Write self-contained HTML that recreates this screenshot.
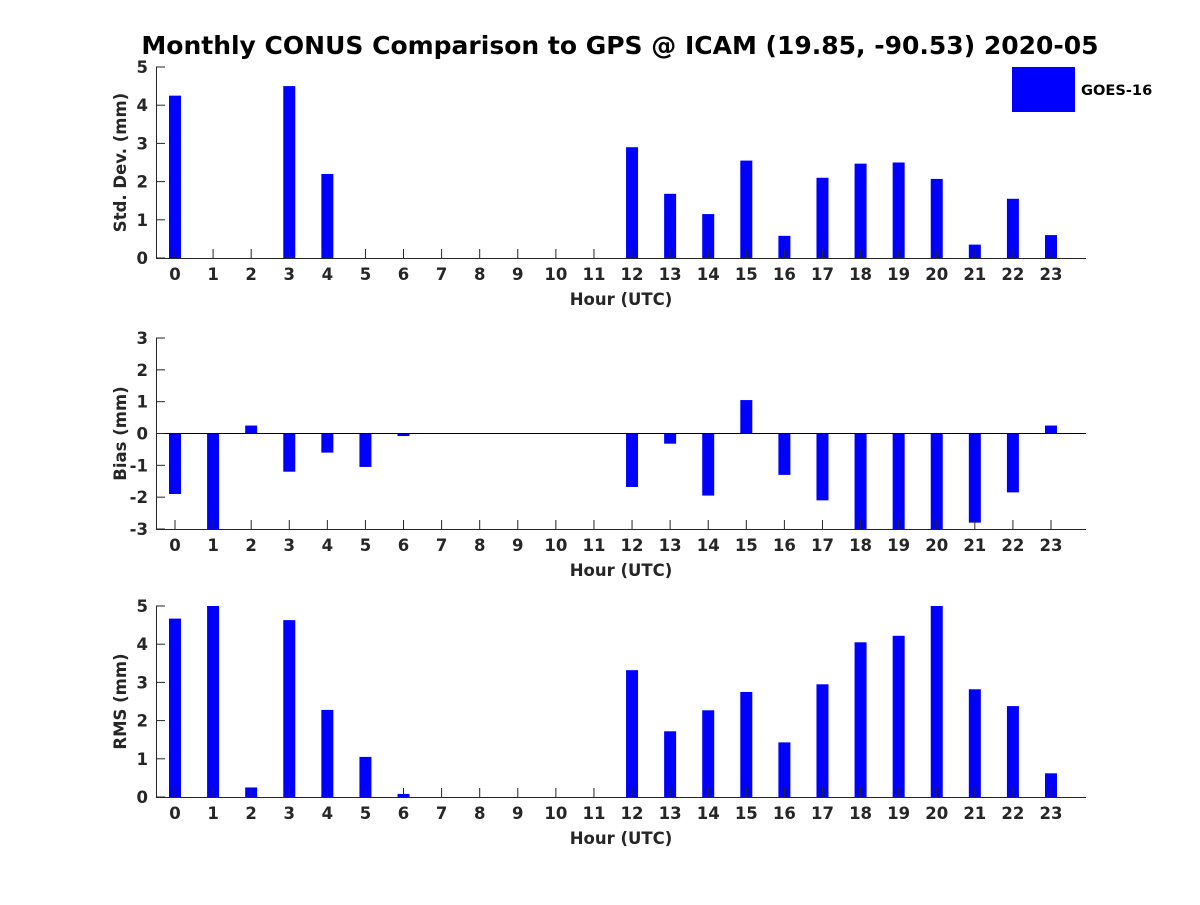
<!DOCTYPE html>
<html><head><meta charset="utf-8"><style>
body{margin:0;background:#fff;}
svg text{font-family:"DejaVu Sans","Liberation Sans",sans-serif;font-weight:bold;fill:#262626;}
</style></head><body>
<svg id="c" width="1200" height="900" xmlns="http://www.w3.org/2000/svg">
<text x="620" y="54" text-anchor="middle" font-size="25" style="fill:#000">Monthly CONUS Comparison to GPS @ ICAM (19.85, -90.53) 2020-05</text>
<rect x="1012" y="67" width="63" height="45" fill="#0000ff"/>
<text x="1081" y="95" font-size="14.6" style="fill:#000">GOES-16</text>
</svg>
<script>
const hours=[0,1,2,3,4,5,6,7,8,9,10,11,12,13,14,15,16,17,18,19,20,21,22,23];
const stdVals=[4.25,0,0,4.5,2.2,0,0,0,0,0,0,0,2.9,1.68,1.15,2.55,0.58,2.1,2.47,2.5,2.07,0.35,1.55,0.6];
const biasVals=[-1.9,-3.2,0.25,-1.2,-0.6,-1.05,-0.08,0,0,0,0,0,-1.68,-0.32,-1.95,1.05,-1.3,-2.1,-3.5,-3.6,-3.3,-2.8,-1.85,0.25];
const rmsVals=[4.67,5.0,0.25,4.63,2.28,1.05,0.08,0,0,0,0,0,3.32,1.72,2.27,2.75,1.43,2.95,4.05,4.22,5.0,2.82,2.38,0.62];
const stdTicks=[0,1,2,3,4,5];
const biasTicks=[-3,-2,-1,0,1,2,3];
const rmsTicks=[0,1,2,3,4,5];
const NS="http://www.w3.org/2000/svg";
const svg=document.getElementById('c');
function el(t,a,p){const e=document.createElementNS(NS,t);for(const k in a)e.setAttribute(k,a[k]);(p||svg).appendChild(e);return e;}
const X0=156,X1=1086;
function xs(h){return 175+h*38.087;}
function panel(name,vals,ticks,ymin,ymax,top,bot,ylabel){
  const g=el('g',{});
  
  
  const ys=v=>bot-(v-ymin)/(ymax-ymin)*(bot-top);
  const base=ys(Math.max(ymin,Math.min(ymax,0)));
  vals.forEach((v,i)=>{
    const vc=Math.max(ymin,Math.min(ymax,v));
    const y1=ys(vc);
    const r=el('rect',{x:xs(hours[i])-6,y:Math.min(y1,base),width:12,height:Math.abs(base-y1),fill:'#0000ff'},g);
    
    
  });
  if(ymin<0){const z=el('line',{x1:X0,x2:X1,y1:base,y2:base,stroke:'#000','stroke-width':1},g);
    }
  const ax=el('line',{x1:X0,x2:X1,y1:bot+0.5,y2:bot+0.5,stroke:'#262626'},g);
  
  const ay=el('line',{x1:X0+0.5,x2:X0+0.5,y1:top,y2:bot,stroke:'#262626'},g);
  
  hours.forEach(h=>{
    el('line',{x1:xs(h),x2:xs(h),y1:bot,y2:bot-9,stroke:'#262626'},g);
    const t=el('text',{x:xs(h),y:bot+22,'text-anchor':'middle','font-size':16.5},g);
    t.textContent=h;
    
  });
  ticks.forEach(v=>{
    el('line',{x1:X0,x2:X0+9,y1:ys(v),y2:ys(v),stroke:'#262626'},g);
    const t=el('text',{x:X0-8,y:ys(v)+6,'text-anchor':'end','font-size':16.5},g);
    t.textContent=v;
    
  });
  const xl=el('text',{x:621,y:bot+47,'text-anchor':'middle','font-size':16.5},g);
  xl.textContent='Hour (UTC)';
  
  const cy=(top+bot)/2;
  const yl=el('text',{x:126,y:cy,'text-anchor':'middle','font-size':16.5,transform:'rotate(-90 126 '+cy+')'},g);
  yl.textContent=ylabel;
  
}
panel('std-dev',stdVals,stdTicks,0,5,67,258,'Std. Dev. (mm)');
panel('bias',biasVals,biasTicks,-3,3,338,529,'Bias (mm)');
panel('rms',rmsVals,rmsTicks,0,5,606,797,'RMS (mm)');
</script>
</body></html>
